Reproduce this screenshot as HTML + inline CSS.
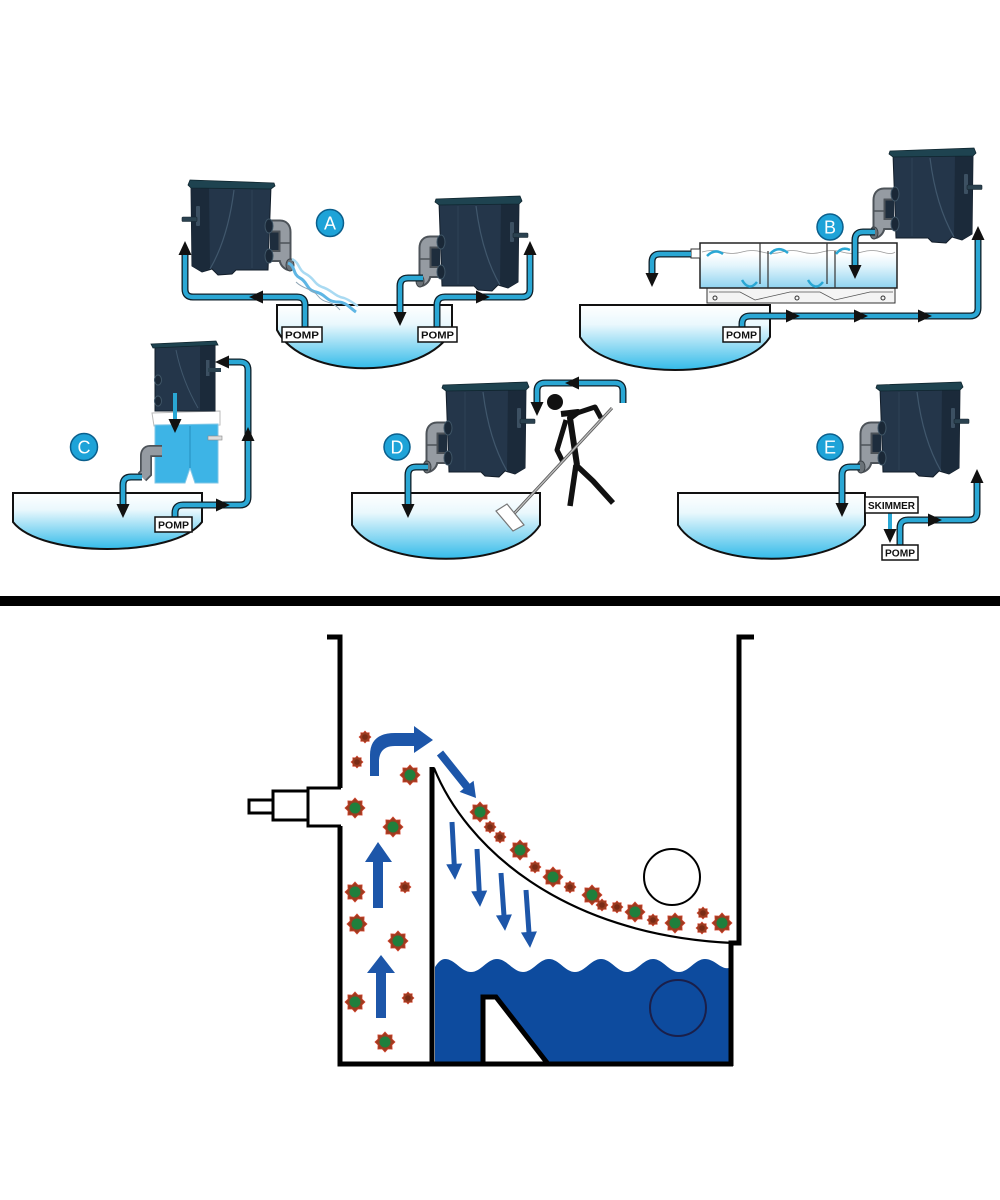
<!DOCTYPE html>
<html><head><meta charset="utf-8"><style>html,body{margin:0;padding:0;background:#fff}svg{display:block}
.pk{fill:none;stroke:#0f1f28;stroke-width:7;stroke-linejoin:round}
.pc{fill:none;stroke:#2aa7d4;stroke-width:4.4;stroke-linejoin:round}
.ah{fill:#111}
.lbl{font-family:"Liberation Sans",sans-serif;font-size:18px;fill:#fff;text-anchor:middle}
.pt{font-family:"Liberation Sans",sans-serif;font-size:10px;fill:#111;font-weight:bold}
</style></head>
<body>
<svg width="1000" height="1200" viewBox="0 0 1000 1200" xmlns="http://www.w3.org/2000/svg">
<defs>
<linearGradient id="pg" x1="0" y1="0" x2="0" y2="1">
 <stop offset="0" stop-color="#ffffff"/>
 <stop offset="0.3" stop-color="#eaf8fd"/>
 <stop offset="1" stop-color="#33bbe9"/>
</linearGradient>
<linearGradient id="tg" x1="0" y1="0" x2="0" y2="1">
 <stop offset="0" stop-color="#ffffff"/>
 <stop offset="0.25" stop-color="#ffffff"/>
 <stop offset="0.5" stop-color="#e3f5fc"/>
 <stop offset="1" stop-color="#8fd3f0"/>
</linearGradient>
<g id="flt">
  <polygon points="1,6 81,4 80,86 70,92 60,89 54,95 40,94 36,90 4,90" fill="#24364a" stroke="#121d29" stroke-width="1"/>
  <polygon points="63,6 81,4 80,86 70,92 62,89" fill="#1b2a3a"/>
  <path d="M38,10 Q44,58 62,89" fill="none" stroke="#40576c" stroke-width="1.2"/>
  <path d="M20,10 V88" stroke="#2e4257" stroke-width="1"/>
  <rect x="-8" y="48" width="10" height="28" fill="#1e2d3d"/>
  <path d="M4,46 H-8 Q-13,46 -13,52 V78 Q-13,83 -18,85" fill="none" stroke="#4d5359" stroke-width="13"/>
  <path d="M4,76 H-10" fill="none" stroke="#4d5359" stroke-width="12"/>
  <path d="M4,46 H-8 Q-13,46 -13,52 V78 Q-13,83 -18,85" fill="none" stroke="#959ba2" stroke-width="9"/>
  <path d="M4,76 H-10" stroke="#959ba2" stroke-width="8"/>
  <line x1="-19" y1="63" x2="-7" y2="63" stroke="#4d5359" stroke-width="1.5"/>
  <ellipse cx="-18" cy="85" rx="4" ry="6" fill="#6b7278" stroke="#3d4348"/>
  <ellipse cx="3" cy="46" rx="4" ry="7" fill="#1a2837" stroke="#3f5566"/>
  <ellipse cx="3" cy="76" rx="4" ry="7" fill="#1a2837" stroke="#3f5566"/>
  <polygon points="-2,3 82,0 84,5 81,8 1,9 -3,6" fill="#1e4350" stroke="#0f252e" stroke-width="0.8"/>
  <rect x="72" y="26" width="4" height="20" rx="1" fill="#3c5062"/>
  <rect x="75" y="37" width="15" height="4.5" rx="1" fill="#2b4250" stroke="#15242e" stroke-width="0.6"/>
</g>
<g id="sb"><polygon points="10,0 6.9,2.9 7.1,7.1 2.9,6.9 0,10 -2.9,6.9 -7.1,7.1 -6.9,2.9 -10,0 -6.9,-2.9 -7.1,-7.1 -2.9,-6.9 0,-10 2.9,-6.9 7.1,-7.1 6.9,-2.9" fill="#9b3c20" stroke="#d0402a" stroke-width="0.8"/><circle r="5.5" fill="#1f7f3c"/></g>
<g id="ss"><polygon transform="scale(0.6)" points="10,0 6.9,2.9 7.1,7.1 2.9,6.9 0,10 -2.9,6.9 -7.1,7.1 -6.9,2.9 -10,0 -6.9,-2.9 -7.1,-7.1 -2.9,-6.9 0,-10 2.9,-6.9 7.1,-7.1 6.9,-2.9" fill="#9b3c20" stroke="#d0402a" stroke-width="1"/><circle r="2.8" fill="#7a2c16"/></g>
<g id="da"><polygon points="-2.5,0 2.5,0 2.5,42 8,42 0,58 -8,42 -2.5,42" fill="#1d56a9"/></g>
</defs>

<rect width="1000" height="1200" fill="#fff"/>

<!-- ============ PONDS ============ -->
<path d="M277,305 H452 V330 C426,381 303,381 277,330 Z" fill="url(#pg)" stroke="#111" stroke-width="2"/>
<path d="M580,305 H770 V337 C742,381 608,381 580,337 Z" fill="url(#pg)" stroke="#111" stroke-width="2"/>
<path d="M13,493 H202 V522 C174,558 41,558 13,522 Z" fill="url(#pg)" stroke="#111" stroke-width="2"/>
<path d="M352,493 H540 V525 C512,570 380,570 352,525 Z" fill="url(#pg)" stroke="#111" stroke-width="2"/>
<path d="M678,493 H865 V525 C837,570 706,570 678,525 Z" fill="url(#pg)" stroke="#111" stroke-width="2"/>

<!-- ============ FILTERS ============ -->
<use href="#flt" transform="translate(272,180) scale(-1,1)"/>
<use href="#flt" transform="translate(438,196)"/>
<use href="#flt" transform="translate(892,148)"/>
<use href="#flt" transform="translate(445,382)"/>
<use href="#flt" transform="translate(879,382)"/>

<!-- A stream -->
<path d="M288,263 C296,266 292,274 300,278 C308,282 306,290 316,292 C326,294 326,302 338,302 C346,302 350,308 356,312" stroke="#5fb6e4" stroke-width="3" fill="none"/>
<path d="M292,259 C300,263 298,270 306,274 C314,278 314,284 322,287 C332,290 334,296 344,298 C350,300 354,304 358,306" stroke="#a9daf2" stroke-width="2.5" fill="none"/>
<path d="M296,282 C304,290 312,288 318,296 C324,304 332,300 340,310" stroke="#8fa6b5" stroke-width="1" fill="none"/>

<!-- B tank -->
<rect x="707" y="288" width="188" height="15" fill="#f4f4f4" stroke="#333" stroke-width="1"/>
<path d="M709,292 L740,292 L755,300 L790,292 L820,292 L835,300 L870,292 L893,292" stroke="#555" stroke-width="0.8" fill="none"/>
<circle cx="715" cy="298" r="2" fill="none" stroke="#333"/>
<circle cx="797" cy="298" r="2" fill="none" stroke="#333"/>
<circle cx="883" cy="298" r="2" fill="none" stroke="#333"/>
<rect x="700" y="243" width="197" height="45" fill="url(#tg)" stroke="#222" stroke-width="1.5"/>
<path d="M702,252 q10,-3 20,0 t20,0 t20,0 t20,0 t20,0 t20,0 t20,0 t20,0 t20,0 t13,0" stroke="#999" stroke-width="0.8" fill="none"/>
<line x1="760" y1="243" x2="760" y2="284" stroke="#333" stroke-width="1.2"/>
<line x1="768" y1="251" x2="768" y2="288" stroke="#333" stroke-width="1.2"/>
<line x1="827" y1="243" x2="827" y2="284" stroke="#333" stroke-width="1.2"/>
<line x1="835" y1="251" x2="835" y2="288" stroke="#333" stroke-width="1.2"/>
<path d="M707,256 q8,-8 16,-2" stroke="#2aa7d4" stroke-width="2.5" fill="none"/>
<path d="M770,254 q8,-9 18,-1" stroke="#2aa7d4" stroke-width="2.5" fill="none"/>
<path d="M836,254 q6,-8 14,-4" stroke="#2aa7d4" stroke-width="2.5" fill="none"/>
<path d="M742,280 q7,12 15,2" stroke="#2aa7d4" stroke-width="2.5" fill="none"/>
<path d="M808,280 q7,12 15,2" stroke="#2aa7d4" stroke-width="2.5" fill="none"/>
<rect x="691" y="249" width="9" height="9" fill="#fff" stroke="#333" stroke-width="1"/>

<!-- C filter assembly -->
<polygon points="152,413 220,411 220,425 154,426" fill="#fff" stroke="#bbb" stroke-width="1"/>
<polygon points="155,425 218,424 218,483 195,483 190,468 185,483 155,483" fill="#3db4e6" stroke="#7fc6e6" stroke-width="1"/>
<line x1="190" y1="426" x2="190" y2="468" stroke="#2a94c4" stroke-width="1.2"/>
<rect x="208" y="436" width="14" height="4" fill="#ddd" stroke="#888" stroke-width="0.6"/>
<polygon points="155,346 215,345 215,411 155,411" fill="#24364a" stroke="#121d29"/>
<polygon points="200,345 215,345 215,411 200,411" fill="#1b2a3a"/>
<path d="M176,350 Q182,380 198,408" fill="none" stroke="#40576c" stroke-width="1"/>
<polygon points="151,344 216,341 218,345 153,348" fill="#1e4350" stroke="#0f252e" stroke-width="0.8"/>
<rect x="206" y="360" width="3.5" height="16" fill="#3c5062"/>
<rect x="208" y="368" width="13" height="4" fill="#2b4250"/>
<ellipse cx="158" cy="380" rx="3.5" ry="5" fill="#1a2837" stroke="#3f5566"/>
<ellipse cx="158" cy="401" rx="3.5" ry="5" fill="#1a2837" stroke="#3f5566"/>
<path d="M162,451 H150 Q146,451 146,456 V473 L142,477" fill="none" stroke="#4d5359" stroke-width="12"/>
<path d="M162,451 H150 Q146,451 146,456 V473 L142,477" fill="none" stroke="#959ba2" stroke-width="8.5"/>

<!-- D stick figure & mop -->
<circle cx="555" cy="402" r="8" fill="#111"/>
<path d="M561,414 L578,412 L570,418 L577,465" stroke="#111" stroke-width="6" fill="none" stroke-linejoin="round"/>
<path d="M574,414 L595,407 L601,418" stroke="#111" stroke-width="5" fill="none" stroke-linejoin="round"/>
<path d="M566,420 L557,450 L563,462" stroke="#111" stroke-width="5" fill="none" stroke-linejoin="round"/>
<path d="M576,465 L570,506" stroke="#111" stroke-width="5.5" fill="none"/>
<path d="M576,465 L593,481 L613,503" stroke="#111" stroke-width="5.5" fill="none" stroke-linejoin="round"/>
<line x1="612" y1="408" x2="510" y2="518" stroke="#555" stroke-width="3"/>
<line x1="612" y1="408" x2="510" y2="518" stroke="#bbb" stroke-width="1.4"/>
<polygon points="496,511 507,504 524,525 513,531" fill="#fff" stroke="#777" stroke-width="1.2"/>

<!-- ============ PIPES ============ -->
<g>
<path class="pk" d="M305,327 V305 Q305,297 297,297 H193 Q185,297 185,289 V254"/>
<path class="pc" d="M305,327 V305 Q305,297 297,297 H193 Q185,297 185,289 V254"/>
<path class="pk" d="M423,278 H408 Q400,278 400,286 V313"/>
<path class="pc" d="M423,278 H408 Q400,278 400,286 V313"/>
<path class="pk" d="M437,327 V305 Q437,297 445,297 H522 Q530,297 530,289 V254"/>
<path class="pc" d="M437,327 V305 Q437,297 445,297 H522 Q530,297 530,289 V254"/>
<path class="pk" d="M875,232 H863 Q855,232 855,240 V266"/>
<path class="pc" d="M875,232 H863 Q855,232 855,240 V266"/>
<path class="pk" d="M691,254 H660 Q652,254 652,262 V274"/>
<path class="pc" d="M691,254 H660 Q652,254 652,262 V274"/>
<path class="pk" d="M742,327 V324 Q742,316 750,316 H970 Q978,316 978,308 V239"/>
<path class="pc" d="M742,327 V324 Q742,316 750,316 H970 Q978,316 978,308 V239"/>
<path class="pk" d="M142,477 H131 Q123,477 123,485 V505"/>
<path class="pc" d="M142,477 H131 Q123,477 123,485 V505"/>
<path class="pk" d="M175,517 V513 Q175,505 183,505 H240 Q248,505 248,497 V370 Q248,362 240,362 H228"/>
<path class="pc" d="M175,517 V513 Q175,505 183,505 H240 Q248,505 248,497 V370 Q248,362 240,362 H228"/>
<path class="pc" d="M175,393 V420" style="stroke-width:4"/>
<path class="pk" d="M428,467 H416 Q408,467 408,475 V505"/>
<path class="pc" d="M428,467 H416 Q408,467 408,475 V505"/>
<path class="pk" d="M623,403 V391 Q623,383 615,383 H545 Q537,383 537,391 V403"/>
<path class="pc" d="M623,403 V391 Q623,383 615,383 H545 Q537,383 537,391 V403"/>
<path class="pk" d="M860,467 H850 Q842,467 842,475 V504"/>
<path class="pc" d="M860,467 H850 Q842,467 842,475 V504"/>
<path class="pc" d="M890,513 V530" style="stroke-width:4"/>
<path class="pk" d="M900,545 V528 Q900,520 908,520 H969 Q977,520 977,512 V482"/>
<path class="pc" d="M900,545 V528 Q900,520 908,520 H969 Q977,520 977,512 V482"/>
</g>

<!-- arrowheads -->
<polygon class="ah" points="185,241 178.5,255 191.5,255"/>
<polygon class="ah" points="249,297 263,290.5 263,303.5"/>
<polygon class="ah" points="400,326 393.5,312 406.5,312"/>
<polygon class="ah" points="530,241 523.5,255 536.5,255"/>
<polygon class="ah" points="490,297 476,290.5 476,303.5"/>
<polygon class="ah" points="855,279 848.5,265 861.5,265"/>
<polygon class="ah" points="652,287 645.5,273 658.5,273"/>
<polygon class="ah" points="978,226 971.5,240 984.5,240"/>
<polygon class="ah" points="800,316 786,309.5 786,322.5"/>
<polygon class="ah" points="868,316 854,309.5 854,322.5"/>
<polygon class="ah" points="932,316 918,309.5 918,322.5"/>
<polygon class="ah" points="123,518 116.5,504 129.5,504"/>
<polygon class="ah" points="215,362 229,355.5 229,368.5"/>
<polygon class="ah" points="248,427 241.5,441 254.5,441"/>
<polygon class="ah" points="230,505 216,498.5 216,511.5"/>
<polygon class="ah" points="175,433 168.5,419 181.5,419"/>
<polygon class="ah" points="408,518 401.5,504 414.5,504"/>
<polygon class="ah" points="537,416 530.5,402 543.5,402"/>
<polygon class="ah" points="565,383 579,376.5 579,389.5"/>
<polygon class="ah" points="842,517 835.5,503 848.5,503"/>
<polygon class="ah" points="890,543 883.5,529 896.5,529"/>
<polygon class="ah" points="977,469 970.5,483 983.5,483"/>
<polygon class="ah" points="942,520 928,513.5 928,526.5"/>

<!-- POMP / SKIMMER boxes -->
<rect x="282" y="327" width="40" height="15" fill="#fff" stroke="#111" stroke-width="1.5"/>
<text class="pt" x="285" y="338.5" textLength="34" lengthAdjust="spacingAndGlyphs">POMP</text>
<rect x="418" y="327" width="39" height="15" fill="#fff" stroke="#111" stroke-width="1.5"/>
<text class="pt" x="421" y="338.5" textLength="33" lengthAdjust="spacingAndGlyphs">POMP</text>
<rect x="723" y="327" width="37" height="15" fill="#fff" stroke="#111" stroke-width="1.5"/>
<text class="pt" x="726" y="338.5" textLength="31" lengthAdjust="spacingAndGlyphs">POMP</text>
<rect x="155" y="517" width="37" height="15" fill="#fff" stroke="#111" stroke-width="1.5"/>
<text class="pt" x="158" y="528.5" textLength="31" lengthAdjust="spacingAndGlyphs">POMP</text>
<rect x="865" y="497" width="53" height="16" fill="#fff" stroke="#111" stroke-width="1.5"/>
<text class="pt" x="868" y="509" textLength="47" lengthAdjust="spacingAndGlyphs">SKIMMER</text>
<rect x="882" y="545" width="36" height="15" fill="#fff" stroke="#111" stroke-width="1.5"/>
<text class="pt" x="885" y="556.5" textLength="30" lengthAdjust="spacingAndGlyphs">POMP</text>

<!-- labels -->
<circle cx="330" cy="223" r="13.5" fill="#1ea3d8" stroke="#0b5f8c" stroke-width="1.5"/>
<text class="lbl" x="330" y="229.5">A</text>
<circle cx="830" cy="227" r="13" fill="#1ea3d8" stroke="#0b5f8c" stroke-width="1.5"/>
<text class="lbl" x="830" y="233.5">B</text>
<circle cx="84" cy="447" r="13.5" fill="#1ea3d8" stroke="#0b5f8c" stroke-width="1.5"/>
<text class="lbl" x="84" y="453.5">C</text>
<circle cx="397" cy="447" r="13" fill="#1ea3d8" stroke="#0b5f8c" stroke-width="1.5"/>
<text class="lbl" x="397" y="453.5">D</text>
<circle cx="830" cy="447" r="13" fill="#1ea3d8" stroke="#0b5f8c" stroke-width="1.5"/>
<text class="lbl" x="830" y="453.5">E</text>

<!-- divider bar -->
<rect x="0" y="596" width="1000" height="10" fill="#000"/>

<!-- ============ BOTTOM DIAGRAM ============ -->
<path d="M435,967 Q440,959 445,959 C455,959 461,972 471,972 C481,972 487,959 497,959 C507,959 513,972 523,972 C533,972 539,959 549,959 C559,959 565,972 575,972 C585,972 591,959 601,959 C611,959 617,972 627,972 C637,972 643,959 653,959 C663,959 669,972 679,972 C689,972 695,959 705,959 C715,959 721,970 729,968 L729,1064 H435 Z" fill="#0d4b9e"/>
<polygon points="483,1064 483,997 496,997 548,1064" fill="#fff" stroke="#000" stroke-width="5" stroke-linejoin="miter"/>
<circle cx="678" cy="1008" r="28" fill="none" stroke="#1a1f4a" stroke-width="2"/>
<circle cx="672" cy="877" r="28" fill="#fff" stroke="#000" stroke-width="2"/>

<path d="M434,768 C465,845 560,935 733,943" fill="none" stroke="#000" stroke-width="2.2"/>

<path d="M327,637 H340 V788" fill="none" stroke="#000" stroke-width="5"/>
<path d="M340,826 V1064 H733" fill="none" stroke="#000" stroke-width="5"/>
<path d="M341,788 H308 V826 H341" fill="none" stroke="#000" stroke-width="3"/>
<rect x="273" y="791" width="35" height="29" fill="#fff" stroke="#000" stroke-width="3"/>
<rect x="249" y="800" width="24" height="13" fill="#fff" stroke="#000" stroke-width="3"/>
<line x1="432" y1="767" x2="432" y2="1064" stroke="#000" stroke-width="5"/>
<path d="M754,637 H739 V943 H731 V1066" fill="none" stroke="#000" stroke-width="5"/>

<polygon points="378,842 392,862 383,862 383,908 373,908 373,862 365,862" fill="#1d56a9"/>
<polygon points="381,955 395,973 386,973 386,1018 376,1018 376,973 367,973" fill="#1d56a9"/>
<path d="M370,776 L370,755 Q370,733 395,733 L414,733 L414,726 L433,740 L414,753 L414,746 L395,746 Q380,746 379,760 L379,776 Z" fill="#1d56a9"/>
<polygon points="443.1,750.5 469.7,783.8 473.6,780.7 476,798 459.6,791.9 463.5,788.8 436.9,755.5" fill="#1d56a9"/>
<use href="#da" transform="translate(452,822) rotate(-3)"/>
<use href="#da" transform="translate(477,849) rotate(-3)"/>
<use href="#da" transform="translate(501,873) rotate(-4)"/>
<use href="#da" transform="translate(526,890) rotate(-4)"/>

<use href="#ss" x="365" y="737"/>
<use href="#ss" x="357" y="762"/>
<use href="#sb" x="410" y="775"/>
<use href="#sb" x="355" y="808"/>
<use href="#sb" x="393" y="827"/>
<use href="#sb" x="355" y="892"/>
<use href="#ss" x="405" y="887"/>
<use href="#sb" x="357" y="924"/>
<use href="#sb" x="398" y="941"/>
<use href="#sb" x="355" y="1002"/>
<use href="#ss" x="408" y="998"/>
<use href="#sb" x="385" y="1042"/>

<use href="#sb" x="480" y="812"/>
<use href="#ss" x="490" y="827"/>
<use href="#ss" x="500" y="837"/>
<use href="#sb" x="520" y="850"/>
<use href="#ss" x="535" y="867"/>
<use href="#sb" x="553" y="877"/>
<use href="#ss" x="570" y="887"/>
<use href="#sb" x="592" y="895"/>
<use href="#ss" x="602" y="905"/>
<use href="#ss" x="617" y="907"/>
<use href="#sb" x="635" y="912"/>
<use href="#ss" x="653" y="920"/>
<use href="#sb" x="675" y="923"/>
<use href="#ss" x="703" y="913"/>
<use href="#ss" x="702" y="928"/>
<use href="#sb" x="722" y="923"/>
</svg>
</body></html>
